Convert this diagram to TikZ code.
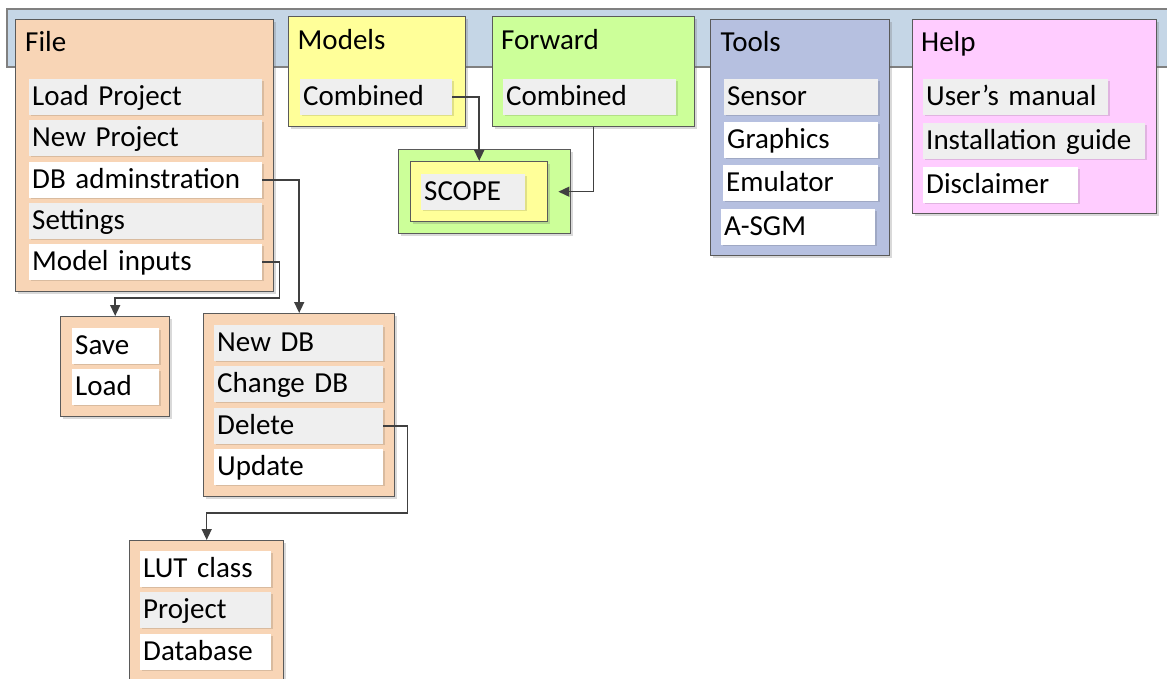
\documentclass[tikz,border=0pt]{standalone}
\usepackage{fontspec}
\setmainfont{Carlito}
\usepackage{tikz}
\usetikzlibrary{arrows.meta,shadows}
\definecolor{barblue}{HTML}{C5D6E6}
\definecolor{peachx}{HTML}{F8D5B6}
\definecolor{yellowx}{HTML}{FFFF99}
\definecolor{greenx}{HTML}{CCFF99}
\definecolor{lavx}{HTML}{B6C0E0}
\definecolor{pinkx}{HTML}{FFCCFF}
\definecolor{itemgrey}{HTML}{EFEFEF}
\definecolor{edgex}{HTML}{5A5A5A}
\definecolor{wirex}{HTML}{404040}
\tikzset{
  ar/.style={-{Triangle[length=11pt,width=10pt]},line width=1.5pt,wirex},
  menubox/.style={draw=edgex,line width=1.4pt,anchor=north west,inner sep=0pt,
    drop shadow={shadow xshift=2.5pt,shadow yshift=-2.5pt,opacity=.25,fill=black!60}},
  ttl/.style={anchor=base west,inner sep=0pt},
  itm/.style={anchor=north west,inner xsep=3pt,inner ysep=0pt,minimum height=35.5pt,
    text height=22pt,text depth=5pt,text width=#1,align=left,fill=white,
    drop shadow={shadow xshift=1.5pt,shadow yshift=-1.5pt,opacity=.12,fill=black}},
  gitm/.style={itm=#1,fill=itemgrey}
}
\begin{document}
\begin{tikzpicture}[x=1pt,y=-1pt,font=\fontsize{29}{35}\selectfont]
\useasboundingbox (0,0) rectangle (1167,679);
\clip (0,0) rectangle (1167,679);
% menu bar
\draw[fill=barblue,draw=black!50,line width=1.2pt] (7,9) rectangle (1180,67);

% File menu
\node[menubox,fill=peachx,minimum width=258pt,minimum height=272pt] (file) at (15,19) {};
\node[ttl] (filet) at (25,52) {File};
\node[gitm=227pt] (loadp) at (29,79) {Load Project};
\node[gitm=227pt] (newp) at (29,120) {New Project};
\node[itm=227pt] (dba) at (29,162) {DB adminstration};
\node[gitm=227pt] (sett) at (29,203) {Settings};
\node[itm=227pt] (minp) at (29,244) {Model inputs};

% Models / Forward
\node[menubox,fill=yellowx,minimum width=177pt,minimum height=110pt] (models) at (288,16) {};
\node[ttl] (modelst) at (297.5,50) {Models};
\node[gitm=146pt] (mcomb) at (300,79) {Combined};
\node[menubox,fill=greenx,minimum width=202pt,minimum height=110pt] (fwd) at (492,16) {};
\node[ttl] (fwdt) at (501,50) {Forward};
\node[gitm=167pt] (fcomb) at (503,79) {Combined};

% SCOPE
\node[menubox,fill=greenx,minimum width=172pt,minimum height=84pt] (scopeout) at (398,149) {};
\node[menubox,fill=yellowx,minimum width=137pt,minimum height=60pt,drop shadow={opacity=0}] (scopein) at (410,161) {};
\node[gitm=98pt] (scope) at (421,174) {SCOPE};

% Tools
\node[menubox,fill=lavx,minimum width=179pt,minimum height=236pt] (tools) at (710,19) {};
\node[ttl] (toolst) at (720.5,52) {Tools};
\node[gitm=148pt] (sensor) at (724,79) {Sensor};
\node[itm=148pt] (graph) at (724,122) {Graphics};
\node[itm=149pt] (emul) at (723,165) {Emulator};
\node[itm=148pt] (asgm) at (721,209) {A-SGM};

% Help
\node[menubox,fill=pinkx,minimum width=244pt,minimum height=194pt] (help) at (912,19) {};
\node[ttl] (helpt) at (921,52) {Help};
\node[gitm=179pt] (uman) at (923,79) {User’s manual};
\node[gitm=216pt] (instg) at (923,123) {Installation guide};
\node[itm=149pt] (discl) at (923,167) {Disclaimer};

% Save / Load
\node[menubox,fill=peachx,minimum width=109pt,minimum height=100pt] (saveload) at (60,316) {};
\node[itm=81pt] (save) at (72,328) {Save};
\node[itm=81pt] (load) at (72,369) {Load};

% DB administration
\node[menubox,fill=peachx,minimum width=191pt,minimum height=183pt] (dbbox) at (203,313) {};
\node[gitm=163pt] (newdb) at (214,325) {New DB};
\node[gitm=163pt] (chdb) at (214,366) {Change DB};
\node[gitm=163pt] (del) at (214,408) {Delete};
\node[itm=163pt] (upd) at (214,449) {Update};

% Delete
\node[menubox,fill=peachx,minimum width=154pt,minimum height=160pt] (lut) at (129,540) {};
\node[itm=125pt] (lutc) at (140,551) {LUT class};
\node[gitm=125pt] (proj) at (140,592) {Project};
\node[itm=125pt] (dbase) at (140,634) {Database};

% connectors
\draw[ar] (minp.east) -- ++(17,0) |- ([yshift=18pt]saveload.north) -- (saveload.north);
\draw[ar] (dba.east) -| (dbbox.north);
\draw[ar] (del.east) -- ++(24,0) |- ([yshift=27pt]lut.north) -- (lut.north);
\draw[ar] (mcomb.east) -| (scopein.north);
\draw[ar,shorten >=10pt] (fwd.south) |- (scopein.east);
\end{tikzpicture}
\end{document}
